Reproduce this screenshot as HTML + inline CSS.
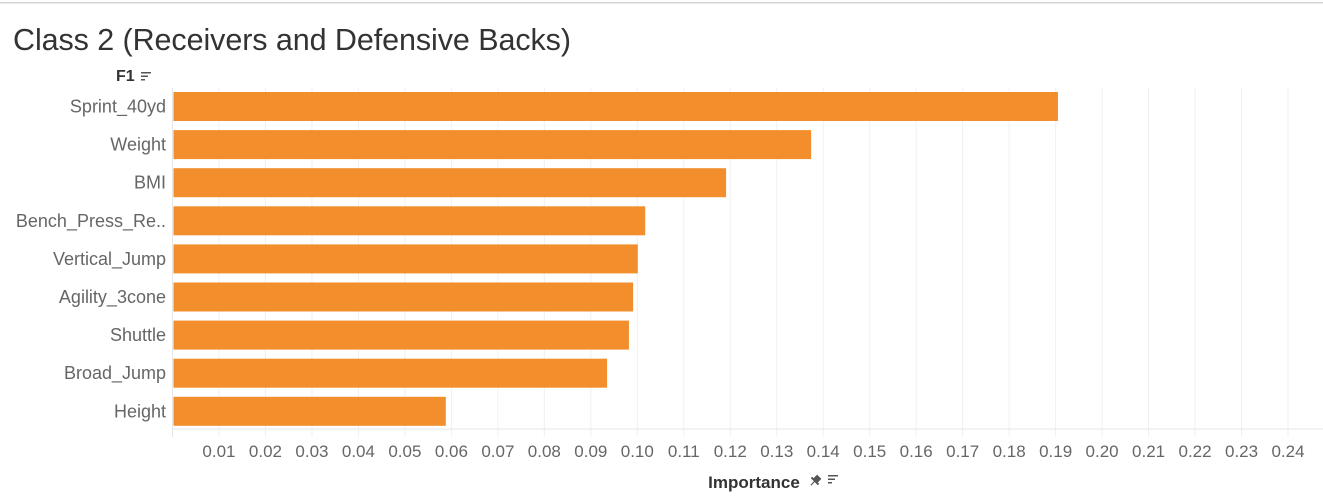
<!DOCTYPE html>
<html><head><meta charset="utf-8"><style>
body{margin:0;width:1323px;height:499px;background:#fff;overflow:hidden;font-family:"Liberation Sans",sans-serif}
</style></head><body>
<svg id="chart" width="1323" height="499" style="position:absolute;left:0;top:0">
<rect x="0" y="2" width="1323" height="1.5" fill="#d4d4d4"/>
<text x="13" y="50" font-size="30.5" fill="#333" textLength="558">Class 2 (Receivers and Defensive Backs)</text>
<text x="116" y="81" font-size="16" font-weight="bold" fill="#333">F1</text>
<g fill="#555"><rect x="141" y="72" width="10" height="1.5"/><rect x="141" y="75.5" width="7" height="1.5"/><rect x="141" y="79" width="4" height="1.5"/></g>
<g id="grid"></g><g id="bars"></g><g id="ylabels"></g><g id="xticks"></g>
<line x1="172.5" y1="429" x2="1323" y2="429" stroke="#e6e6e6"/>
<text x="754" y="488" font-size="17" font-weight="bold" fill="#333" text-anchor="middle">Importance</text>
<g fill="#555" transform="translate(815,481) rotate(45)"><rect x="-3" y="-6" width="6" height="6"/><rect x="-5" y="-1" width="10" height="2"/><rect x="-0.6" y="0" width="1.2" height="6"/></g>
<g fill="#555"><rect x="828" y="475" width="10" height="1.5"/><rect x="828" y="478.5" width="7" height="1.5"/><rect x="828" y="482" width="4" height="1.5"/></g>
</svg>
<script>
const categories=["Sprint_40yd","Weight","BMI","Bench_Press_Re..","Vertical_Jump","Agility_3cone","Shuttle","Broad_Jump","Height"];
const values=[0.1905,0.1374,0.1191,0.1017,0.1001,0.0991,0.0982,0.0935,0.0588];
const ticks=[0.01,0.02,0.03,0.04,0.05,0.06,0.07,0.08,0.09,0.10,0.11,0.12,0.13,0.14,0.15,0.16,0.17,0.18,0.19,0.20,0.21,0.22,0.23,0.24];
const NS="http://www.w3.org/2000/svg";
const x=v=>172.5+v*4648;
const yTop=i=>92+i*38.1;
const bh=29;
function mk(t,a,p){const e=document.createElementNS(NS,t);for(const k in a)e.setAttribute(k,a[k]);p.appendChild(e);return e;}
const grid=document.getElementById('grid'),bars=document.getElementById('bars'),yl=document.getElementById('ylabels'),xt=document.getElementById('xticks');
mk('line',{x1:x(0),y1:88,x2:x(0),y2:437,stroke:'#e6e6e6'},grid);
ticks.forEach(t=>{
 const l=mk('line',{x1:x(t),y1:88,x2:x(t),y2:437,stroke:'#f0f0f0'},grid);
 
 
 const tx=mk('text',{x:x(t),y:457,'font-size':17,fill:'#666','text-anchor':'middle'},xt);
 tx.textContent=t.toFixed(2);
 
 
});
categories.forEach((c,i)=>{
 const r=mk('rect',{x:x(0)+1,y:yTop(i),width:x(values[i])-x(0)-1,height:bh,fill:'#f28e2b'},bars);
 
 
 const t=mk('text',{x:166,y:yTop(i)+bh/2+6,'font-size':18,fill:'#666','text-anchor':'end'},yl);
 t.textContent=c;
 
 
});
</script>
</body></html>
